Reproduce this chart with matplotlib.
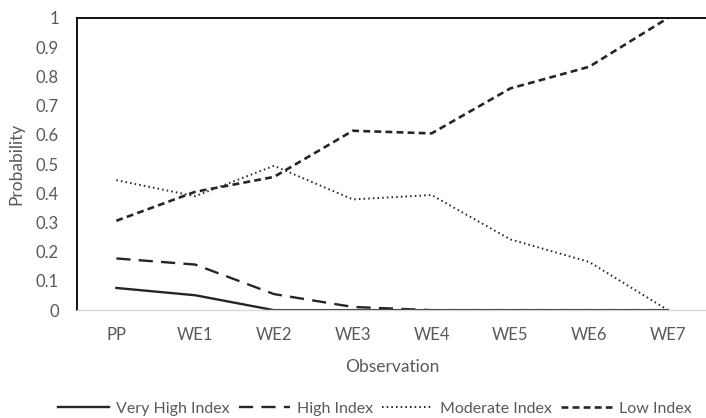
import matplotlib.pyplot as plt
import numpy as np

# data
observations = ["PP", "WE1", "WE2", "WE3", "WE4", "WE5", "WE6", "WE7"]
very_high = [0.076, 0.051, 0.0, 0.0, 0.0, 0.0, 0.0, 0.0]
high = [0.177, 0.156, 0.055, 0.011, 0.0, 0.0, 0.0, 0.0]
moderate = [0.445, 0.390, 0.494, 0.379, 0.394, 0.242, 0.165, 0.0]
low = [0.306, 0.405, 0.456, 0.614, 0.605, 0.759, 0.833, 1.0]

plt.rcParams["font.family"] = ["Lato", "DejaVu Sans"]
grey = "#595959"
ink = "#262626"

fig = plt.figure(figsize=(7.06, 4.18), dpi=100)
ax = fig.add_axes([0.109, 0.258, 0.893, 0.699])

x = np.arange(len(observations))
ax.plot(x, very_high, color=ink, lw=1.7, linestyle="-", label="Very High Index")
ax.plot(x, high, color=ink, lw=1.7, linestyle=(0, (6, 3.5)), label="High Index")
ax.plot(x, moderate, color=ink, lw=1.4, linestyle=(0, (0.8, 1.6)), label="Moderate Index")
ax.plot(x, low, color=ink, lw=1.9, linestyle=(0, (2.6, 1.6)), label="Low Index")

ax.set_xlim(-0.5, len(observations) - 0.5)
ax.set_ylim(0, 1)
ax.set_xticks(x)
ax.set_xticklabels(observations)
ax.set_yticks(np.arange(0, 1.01, 0.1))
ax.set_yticklabels(["0"] + [f"{v:.1f}" for v in np.arange(0.1, 0.95, 0.1)] + ["1"])
ax.tick_params(length=0, labelsize=12, labelcolor=grey)
ax.tick_params(axis="x", pad=12)
ax.tick_params(axis="y", pad=13)

for side in ["left", "top"]:
    ax.spines[side].set_color("#000000")
    ax.spines[side].set_linewidth(1.3)
ax.spines["right"].set_visible(False)
ax.spines["bottom"].set_color("#d9d9d9")
ax.spines["bottom"].set_linewidth(1.0)

ax.set_xlabel("Observation", fontsize=12.5, color=grey, labelpad=12)
ax.set_ylabel("Probability", fontsize=12.5, color=grey, labelpad=8)

fig.legend(loc="center", bbox_to_anchor=(0.531, 0.022), ncol=4, frameon=False,
           fontsize=11.5, labelcolor=grey, handlelength=3.2, handletextpad=0.4,
           columnspacing=0.6)

fig.savefig("out.png", dpi=100)
